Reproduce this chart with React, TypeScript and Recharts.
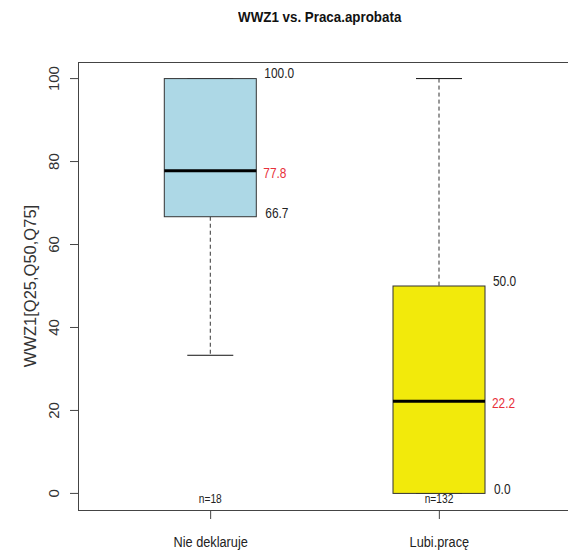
import React from 'react';
import { ComposedChart, Bar, XAxis, YAxis } from 'recharts';

// box statistics per group
const categories = ['Nie deklaruje', 'Lubi.pracę'];
const positions = [1, 2];
const mins = [33.3, 0];
const q1s = [66.7, 0];
const medians = [77.8, 22.2];
const q3s = [100, 50];
const maxs = [100, 100];
const counts = [18, 132];
const boxColors = ['#ADD8E6', '#F2EA0B'];

const yTicks = [0, 20, 40, 60, 80, 100];
const yDomain = [-4, 104];
const xDomain = [0.42, 2.58];

const SANS = '"Liberation Sans", Arial, sans-serif';
const SQUEEZE = 0.85; // R's narrow Helvetica look

const data = categories.map((name, i) => ({
  name,
  pos: positions[i],
  whole: [mins[i], maxs[i]],
  min: mins[i],
  q1: q1s[i],
  median: medians[i],
  q3: q3s[i],
  max: maxs[i],
  n: counts[i],
  fill: boxColors[i],
}));

// text squeezed horizontally around its anchor point
const NarrowText = ({ x, y, children, ...rest }: any) => (
  <text
    transform={`translate(${x}, ${y}) scale(${SQUEEZE}, 1)`}
    x={0}
    y={0}
    fontFamily={SANS}
    {...rest}
  >
    {children}
  </text>
);

const BoxShape = (props: any) => {
  const { x, y, width, height, payload } = props;
  const { min, q1, median, q3, max, n, fill } = payload;
  // y/height come from the bar's [min, max] range on the y scale
  const k = height / (max - min);
  const py = (v: number) => y + (max - v) * k;
  const cx = x + width / 2;
  const right = x + width;
  const cap = width / 4;
  return (
    <g>
      {/* whiskers */}
      <line x1={cx} x2={cx} y1={py(max)} y2={py(q3)} stroke='#333' strokeDasharray='4 3' />
      <line x1={cx} x2={cx} y1={py(q1)} y2={py(min)} stroke='#333' strokeDasharray='4 3' />
      <line x1={cx - cap} x2={cx + cap} y1={py(max)} y2={py(max)} stroke='#111' />
      <line x1={cx - cap} x2={cx + cap} y1={py(min)} y2={py(min)} stroke='#111' />
      {/* box */}
      <rect x={x} y={py(q3)} width={width} height={py(q1) - py(q3)} fill={fill} stroke='#333' />
      <line x1={x} x2={right} y1={py(median)} y2={py(median)} stroke='#000' strokeWidth={3} />
      {/* value labels */}
      <NarrowText x={right + 8} y={py(q3) - 5} dominantBaseline='central' fontSize={14} fill='#222'>
        {q3.toFixed(1)}
      </NarrowText>
      <NarrowText x={right + 7} y={py(median) + 2} dominantBaseline='central' fontSize={14} fill='#E8303A'>
        {median.toFixed(1)}
      </NarrowText>
      <NarrowText x={right + 9} y={py(q1) - 4} dominantBaseline='central' fontSize={14} fill='#222'>
        {q1.toFixed(1)}
      </NarrowText>
      <NarrowText x={cx} y={py(-1.3)} textAnchor='middle' dominantBaseline='central' fontSize={12} fill='#222'>
        {`n=${n}`}
      </NarrowText>
    </g>
  );
};

const YTick = (props: any) => {
  const { x, y, payload } = props;
  const tx = x - 14;
  return (
    <text
      x={tx}
      y={y}
      transform={`rotate(-90, ${tx}, ${y})`}
      textAnchor='middle'
      dominantBaseline='central'
      fontFamily={SANS}
      fontSize={15}
      fill='#333'
    >
      {payload.value}
    </text>
  );
};

const XTick = (props: any) => {
  const { x, y, payload } = props;
  return (
    <NarrowText x={x} y={y + 26} textAnchor='middle' fontSize={15} fill='#222'>
      {categories[positions.indexOf(payload.value)]}
    </NarrowText>
  );
};

export default function App() {
  return (
    <div style={{ position: 'relative', width: 568, height: 545 }}>
      <div
        style={{
          position: 'absolute',
          left: 0,
          width: 624,
          top: 0,
          textAlign: 'center',
          fontFamily: SANS,
          fontWeight: 'bold',
          fontSize: 15,
          color: '#111',
        }}
      >
        <span style={{ display: 'inline-block', transform: 'scaleX(0.89)' }}>
          WWZ1 vs. Praca.aprobata
        </span>
      </div>
      <div
        style={{
          position: 'absolute',
          left: 22 - 100,
          top: 278 - 10,
          width: 200,
          height: 20,
          lineHeight: '20px',
          textAlign: 'center',
          transform: 'rotate(-90deg)',
          fontFamily: SANS,
          fontSize: 16.5,
          color: '#333',
        }}
      >
        WWZ1[Q25,Q50,Q75]
      </div>
      <ComposedChart
        width={568}
        height={545}
        data={data}
        margin={{ top: 54, right: 4, bottom: 8, left: 30 }}
      >
        <XAxis
          dataKey='pos'
          type='number'
          domain={xDomain}
          ticks={positions}
          allowDataOverflow
          height={35}
          tickSize={9}
          tickLine={{ stroke: '#444' }}
          axisLine={false}
          tick={<XTick />}
          interval={0}
        />
        <YAxis
          type='number'
          domain={yDomain}
          ticks={yTicks}
          width={40}
          tickSize={8}
          tickLine={{ stroke: '#444' }}
          axisLine={false}
          tick={<YTick />}
          allowDataOverflow
        />
        <Bar
          dataKey='whole'
          barSize={92}
          shape={<BoxShape />}
          isAnimationActive={false}
        />
      </ComposedChart>
      {/* plot frame (R's box()), laid over the chart */}
      <div
        style={{
          position: 'absolute',
          left: 70,
          top: 54,
          width: 495,
          height: 449,
          boxSizing: 'border-box',
          border: '1px solid #444',
          pointerEvents: 'none',
          zIndex: 2,
        }}
      />
    </div>
  );
}
